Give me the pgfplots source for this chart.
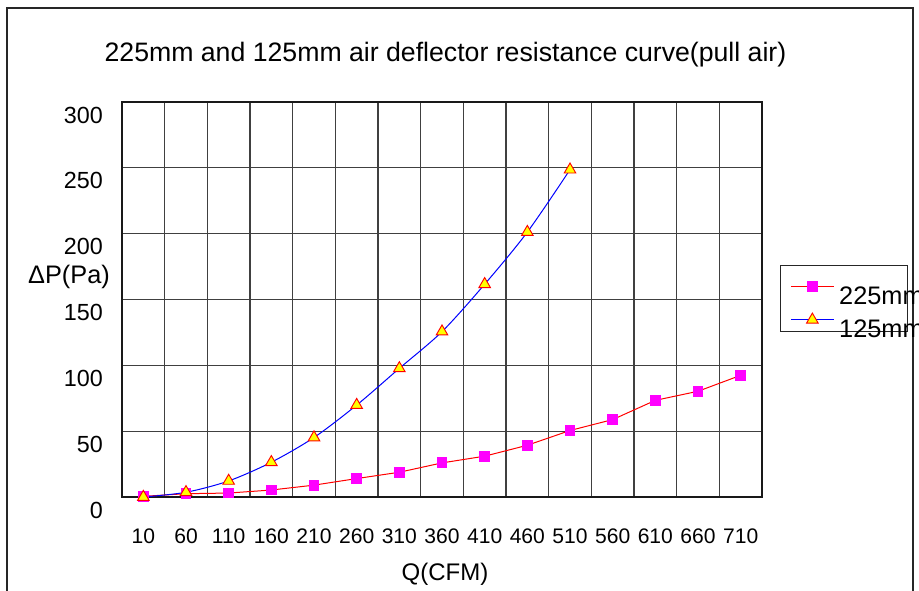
\documentclass[border=0pt]{standalone}
\usepackage{fontspec}
\setmainfont{Liberation Sans}
\usepackage{pgfplots}
\pgfplotsset{compat=1.18}
\definecolor{mag}{RGB}{255,0,255}
\definecolor{yel}{RGB}{255,255,0}
\begin{document}
\begin{tikzpicture}[x=0.75pt,y=0.75pt]
\useasboundingbox (0,0) rectangle (919,591);
\draw[black!85, line width=1.3pt] (7,-20) rectangle (913,583);
\node[font=\fontsize{20pt}{23pt}\selectfont] at (445.5,536) {225mm and 125mm air deflector resistance curve(pull air)};
\node[font=\fontsize{19pt}{22pt}\selectfont] at (69,314) {ΔP(Pa)};
\node[font=\fontsize{18pt}{21pt}\selectfont] at (445,17) {Q(CFM)};
\begin{axis}[
  at={(91.5pt,70.5pt)}, anchor=south west,
  scale only axis, width=480pt, height=296.25pt,
  xmin=-0.5, xmax=14.5, ymin=0, ymax=300,
  xtick={0,...,14},
  xticklabels={10,60,110,160,210,260,310,360,410,460,510,560,610,660,710},
  minor xtick={-0.5,0.5,...,14.5},
  ytick={0,50,...,300},
  xminorgrids, ymajorgrids,
  major tick length=0pt, minor tick length=0pt,
  grid style={black!75, line width=0.9pt},
  minor grid style={black!75, line width=0.9pt},
  axis line style={black!90, line width=1.5pt},
  /pgf/number format/assume math mode=true,
  yticklabel style={font=\fontsize{17.5pt}{20pt}\selectfont, anchor=east, inner sep=0pt, xshift=-14.25pt, yshift=-9.75pt},
  xticklabel style={font=\fontsize{15.8pt}{18pt}\selectfont, anchor=center, inner sep=0pt, yshift=-29.25pt},
  legend style={at={(1.028,0.587)}, anchor=north west, draw=black!85, line width=0.9pt, fill=white,
    inner xsep=7.5pt, inner ysep=0pt, row sep=0pt,
    font=\fontsize{19pt}{19pt}\selectfont, nodes={inner sep=0pt},
    /tikz/every odd column/.append style={column sep=3.75pt}},
  legend image code/.code={\path[draw=none,fill=none] (0pt,-9pt) rectangle (32pt,15.75pt);
    \draw[mark repeat=2,mark phase=2,#1] plot coordinates {(0pt,0pt) (16pt,0pt) (32pt,0pt)};},
]
\addplot[red, line width=0.75pt, mark=square*, mark size=3.7pt, mark options={fill=mag, draw=mag, solid}]
coordinates {(0,0.5) (1,2.5) (2,3) (3,5.3) (4,9) (5,14) (6,18.8) (7,25.9) (8,31) (9,39.3) (10,50.5) (11,58.8) (12,73.4) (13,80.3) (14,92.4)};
\addplot[blue, line width=0.75pt, smooth, mark=triangle*, mark size=5pt, mark options={fill=yel, draw=red, line width=0.7pt, solid}]
coordinates {(0,0) (1,3.6) (2,12.2) (3,26.4) (4,45.2) (5,69.8) (6,97.7) (7,125.6) (8,161.6) (9,201.2) (10,248.6)};
\legend{\makebox[44pt][l]{\raisebox{-14pt}[0pt][0pt]{225mm}},\makebox[44pt][l]{\raisebox{-14pt}[0pt][0pt]{125mm}}}
\end{axis}
\end{tikzpicture}
\end{document}
